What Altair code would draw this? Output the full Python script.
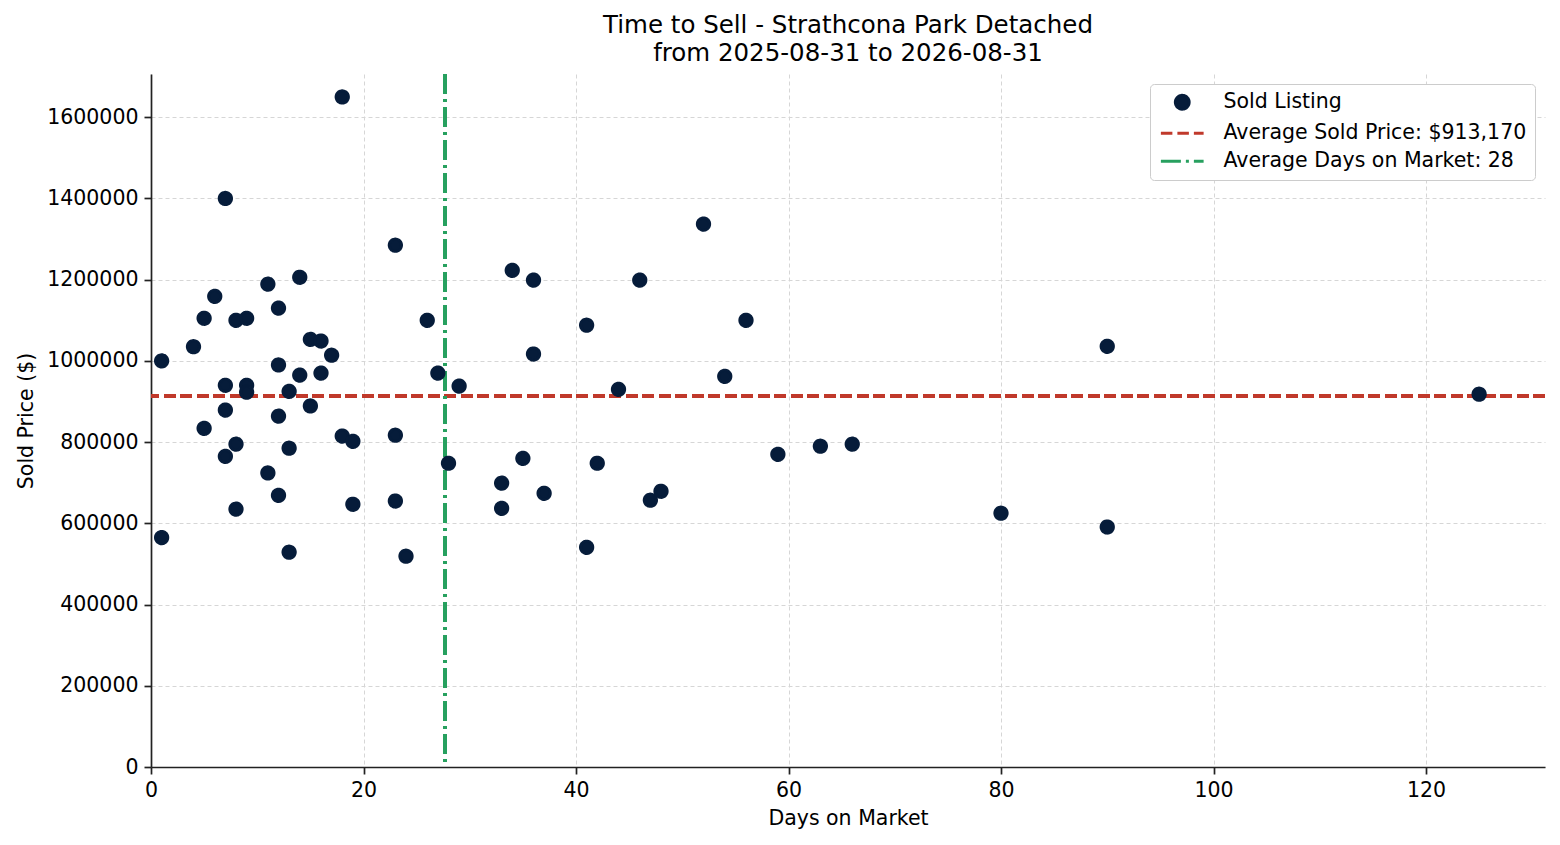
import pandas as pd
import altair as alt

# ==================== data ====================
days_on_market = [
    1, 1, 4, 5, 5, 6, 7, 7, 7, 7, 8, 8, 8, 9, 9, 9, 11, 11, 12, 12, 12, 12,
    13, 13, 13, 14, 14, 15, 15, 16, 16, 17, 18, 18, 19, 19, 23, 23, 23, 24,
    26, 27, 28, 29, 33, 33, 34, 35, 36, 36, 37, 41, 41, 42, 44, 46, 47, 48,
    52, 54, 56, 59, 63, 66, 80, 90, 90, 125,
]
sold_price = [
    1000000, 565000, 1035000, 1105000, 834000, 1159000, 1400000, 940000, 879000, 765000,
    1100000, 795000, 635000, 1105000, 940000, 923000, 1189000, 724000, 1130000, 990000,
    864000, 669000, 925000, 785000, 529000, 1206000, 965000, 1053000, 889000, 1049000,
    970000, 1014000, 1650000, 815000, 802000, 647000, 1285000, 817000, 655000, 519000,
    1100000, 970000, 748000, 938000, 699000, 637000, 1223000, 760000, 1199000, 1017000,
    674000, 1088000, 541000, 748000, 930000, 1199000, 657000, 679000, 1337000, 962000,
    1100000, 770000, 790000, 795000, 625000, 1036000, 591000, 918000,
]
avg_price = 913170
avg_days = 27.68

series_labels = [
    "Sold Listing",
    "Average Sold Price: $913,170",
    "Average Days on Market: 28",
]
series_colors = ["#061c3a", "#c0392b", "#27a05f"]

x_ticks = [0, 20, 40, 60, 80, 100, 120]
y_ticks = [0, 200000, 400000, 600000, 800000, 1000000, 1200000, 1400000, 1600000]

# ==================== layout ====================
PLOT_W = 1394
PLOT_H = 693
FONT = "DejaVu Sans"
TEXT_SIZE = 20.5
TITLE_SIZE = 24.5
LINE_W = 3
PRICE_DASH = [11.5, 5]
DAYS_DASH = [20, 5, 3, 5]

df = pd.DataFrame({"days": days_on_market, "price": sold_price})
df["series"] = series_labels[0]

x_scale = alt.Scale(domain=[0, 131.2], nice=False, zero=False)
y_scale = alt.Scale(domain=[0, 1706550], nice=False)

x_axis = alt.Axis(values=x_ticks, title="Days on Market", format="d")
y_axis = alt.Axis(values=y_ticks, title="Sold Price ($)", format="d")

legend_scale = alt.Scale(domain=series_labels, range=series_colors)

# 범례: 점 하나 + 선 두 개 (shape 범위에 가로선 경로 사용)
points = alt.Chart(df).mark_point(filled=True, opacity=1, strokeWidth=LINE_W).encode(
    x=alt.X("days:Q", scale=x_scale, axis=x_axis),
    y=alt.Y("price:Q", scale=y_scale, axis=y_axis),
    fill=alt.Fill("series:N", scale=legend_scale, title=None),
    stroke=alt.Stroke("series:N", scale=legend_scale, title=None),
    shape=alt.Shape(
        "series:N",
        scale=alt.Scale(domain=series_labels,
                        range=["circle", "M-3.1,0H3.1", "M-3.1,0H3.1"]),
        title=None,
    ),
    strokeDash=alt.StrokeDash(
        "series:N",
        scale=alt.Scale(domain=series_labels,
                        range=[[1, 0], PRICE_DASH, DAYS_DASH]),
        title=None,
    ),
    size=alt.value(150),
)

price_line = alt.Chart(df).mark_rule(
    color=series_colors[1], strokeWidth=LINE_W, strokeDash=PRICE_DASH
).encode(y=alt.datum(avg_price, scale=y_scale))

days_line = alt.Chart(df).mark_rule(
    color=series_colors[2], strokeWidth=LINE_W, strokeDash=DAYS_DASH
).encode(x=alt.datum(avg_days, scale=x_scale))

chart = alt.layer(price_line, days_line, points).properties(
    width=PLOT_W,
    height=PLOT_H,
    padding={"left": 8, "top": 5, "right": 5, "bottom": 0},
    title=alt.TitleParams(
        ["Time to Sell - Strathcona Park Detached", "from 2025-08-31 to 2026-08-31"],
        font=FONT, fontSize=TITLE_SIZE, fontWeight="normal", color="black",
        lineHeight=28, offset=6, anchor="middle",
    ),
).configure_view(
    stroke=None
).configure_axis(
    labelFont=FONT, titleFont=FONT, labelFontSize=TEXT_SIZE, titleFontSize=TEXT_SIZE,
    titleFontWeight="normal", labelColor="black", titleColor="black",
    domainColor="#222222", domainWidth=1.7, tickColor="#222222", tickSize=7,
    tickWidth=1.7, grid=True, gridColor="#d6d6d6", gridDash=[4, 3],
    gridWidth=1, labelPadding=6, labelFlush=False,
).configure_axisX(
    titlePadding=8
).configure_axisY(
    titlePadding=10
).configure_legend(
    orient="top-right", offset=10, labelFont=FONT, labelFontSize=TEXT_SIZE,
    labelColor="black", strokeColor="#cccccc", cornerRadius=4, fillColor="white",
    padding=8, symbolOffset=14, labelOffset=31, rowPadding=7, labelLimit=0,
    symbolSize=190, symbolStrokeWidth=LINE_W,
)

chart.save("out.html", embed_options={"renderer": "svg", "actions": False})
